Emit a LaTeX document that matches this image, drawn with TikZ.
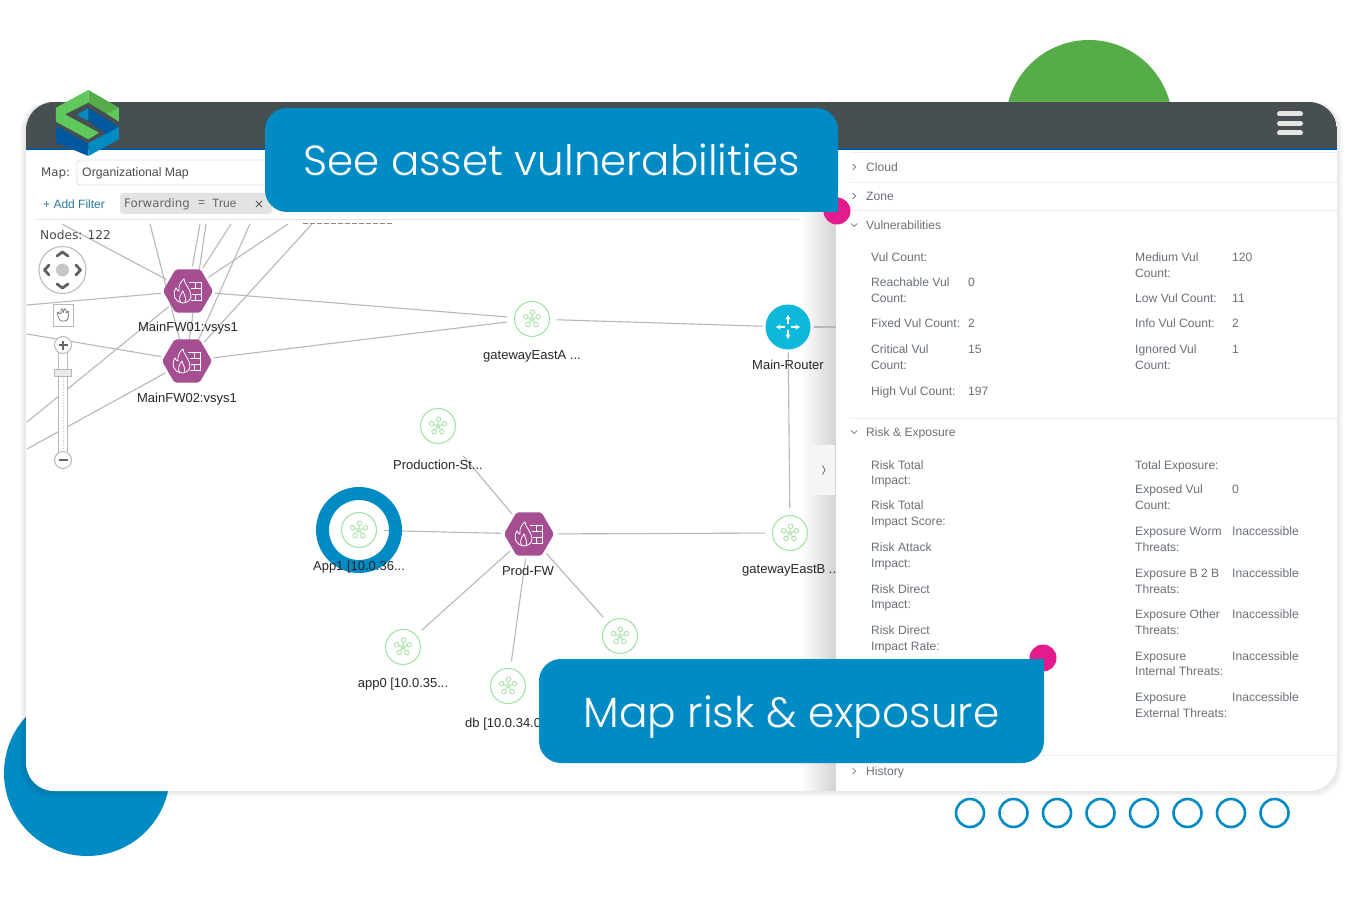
\documentclass[tikz,border=0pt]{standalone}
\usepackage{fontspec}
\setmainfont{Liberation Sans}
\newfontfamily\calloutfont[UprightFont=* Light]{Poppins}
\newfontfamily\verdfont{DejaVu Sans}
\usetikzlibrary{
  positioning,
  calc,
  arrows.meta,
  shapes.geometric
}
\definecolor{myBlue}{HTML}{008BC4}
\definecolor{myDarkBlue}{HTML}{00589E}
\definecolor{myGreen}{HTML}{56AC48}
\definecolor{myLightGreen}{HTML}{5FC85A}
\definecolor{myPink}{HTML}{E31C8D}
\definecolor{myHeader}{HTML}{474F52}
\definecolor{myPurple}{HTML}{A54E92}
\definecolor{myCyan}{HTML}{0DB8DA}
\definecolor{myRing}{HTML}{A4E2A6}
\definecolor{myLink}{HTML}{B8B8B8}
\definecolor{myText}{HTML}{6A7078}
\pgfdeclarelayer{deep}
\pgfdeclarelayer{links}
\pgfsetlayers{deep,links,main}
\tikzset{
  fwnode/.style={regular polygon, regular polygon sides=6, minimum size=50pt, inner sep=0pt, outer sep=3pt, fill=myPurple, rounded corners=2pt},
  netnode/.style={circle, minimum size=35pt, inner sep=0pt, outer sep=7.5pt, draw=myRing, line width=1.1pt, fill=white},
  routernode/.style={circle, minimum size=45pt, inner sep=0pt, outer sep=3pt, fill=myCyan},
  netlabel/.style={inner sep=0pt, font=\fontsize{13}{15}\selectfont, text=black!85},
  link/.style={draw=myLink, line width=1.1pt},
  paneltext/.style={anchor=base west, inner sep=0pt, font=\fontsize{12.1}{14}\selectfont, text=myText},
  uitext/.style={anchor=west, inner sep=0pt, text=black!70},
  callout/.style={rounded corners=22pt, fill=myBlue, text=white, inner sep=0pt, text height=32pt, text depth=0pt, font=\calloutfont\fontsize{42.3}{50}\selectfont},
  chev/.style={draw=myText, line width=0.7pt},
  panchev/.style={draw=black!62, line width=2.8pt, line cap=round, line join=round},
  ctrl/.style={draw=black!28, line width=1pt, fill=white},
  ringdot/.style={circle, draw=myBlue, line width=2.6pt, minimum size=28pt, inner sep=0pt},
  netpic/.pic={
    \begin{scope}[line width=0.8pt, draw=myRing]
      \foreach \a in {55,125,200,340,275}
        \draw (0,0) -- (\a:4.5) (\a:6.8) circle (2.3pt);
      \draw[fill=white] (0,0) circle (1.8pt);
    \end{scope}
  },
  fwpic/.pic={
    \begin{scope}[line width=0.8pt, draw=white]
      \draw (-5,12) .. controls (-14,11) and (-16,3) .. (-12,-3) .. controls (-11,-1) and (-10,0) .. (-9,0)
        .. controls (-10,-5) and (-7,-10) .. (-4,-12) .. controls (-4,-7) and (3,-2) .. (3,5) .. controls (3,9) and (-1,12) .. (-5,12);
      \draw (-7,12) .. controls (-10,8) and (-8,4) .. (-5,0) .. controls (-4,4) and (-1,7) .. (-3,12);
      \draw (1,-9) -- (13,-9) -- (13,9) -- (3,9) (3,-3) -- (13,-3) (4,3) -- (13,3) (7,-9) -- (7,-3) (7,3) -- (7,9);
    \end{scope}
  },
  routerpic/.pic={
    \begin{scope}[line width=1.1pt, draw=white, -{Stealth[length=4.5pt,width=5pt]}]
      \draw (3,0) -- (12,0);
      \draw (-3,0) -- (-12,0);
      \draw (0,-3) -- (0,-12);
      \draw (0,3) -- (0,12);
    \end{scope}
  }
}

\begin{document}
\begin{tikzpicture}[x=1pt, y=-1pt]
  \useasboundingbox (0,0) rectangle (1363,904);

  \begin{pgfonlayer}{deep}
    % 背景の円
    \fill[myGreen] (1089,123.5) circle (83.5);
    \fill[myBlue] (87,773) circle (83);

    % カードの影
    \foreach \s in {1,...,6}
      \fill[black, opacity=0.014, rounded corners=28pt] (26-\s,102) rectangle (1337+\s,791+\s);
    \fill[white, rounded corners=28pt] (26,102) rectangle (1337,791);

    % パネルの影
    \shade[left color=white, right color=black!17] (800,150) rectangle (836,790.5);
  \end{pgfonlayer}

  % 小さい丸の列
  \foreach \i/\cx in {1/970,2/1013.5,3/1057,4/1100.5,5/1144,6/1187.5,7/1231,8/1274.5}
    \node (ring\i) at (\cx,813) [ringdot]{};

  % ヘッダ
  \begin{scope}
    \clip[rounded corners=28pt] (26,102) rectangle (1337,791);
    \fill[myHeader] (26,102) rectangle (1337,148);
    \fill[myDarkBlue] (26,148) rectangle (1337,150);
  \end{scope}
  \foreach \by in {114,123.5,133}
    \draw[white!90!black, line width=5pt, line cap=round] (1279.5,\by) -- (1300.5,\by);

  % グラフのノード
  \node (fwA) at (188,291) [fwnode]{};
  \node (fwB) at (187,361) [fwnode]{};
  \node (fwC) at (529,534) [fwnode]{};
  \node (gwA) at (532,319) [netnode]{};
  \node (gwB) at (790,533) [netnode]{};
  \node (prod) at (438,426) [netnode]{};
  \node (appB) at (403,647) [netnode]{};
  \node (dbA) at (508,686) [netnode]{};
  \node (extra) at (620,636) [netnode]{};
  \node (router) at (788,327) [routernode]{};

  % App1 の輪
  \draw[myBlue, line width=13pt] (359,530) circle (36.5);
  \node (appA) at (359,530) [netnode]{};

  % 端の座標
  \coordinate (tA) at (62,224);
  \coordinate (tB) at (150,224);
  \coordinate (tC) at (200,224);
  \coordinate (tD) at (206,224);
  \coordinate (tE) at (231,224);
  \coordinate (tF) at (250,224);
  \coordinate (tG) at (288,224);
  \coordinate (tH) at (312,224);
  \coordinate (lA) at (27,305);
  \coordinate (lB) at (27,334);
  \coordinate (lC) at (27,422);
  \coordinate (lD) at (27,449);
  \coordinate (rA) at (836,327);

  % 接続線
  \begin{pgfonlayer}{links}
    \draw[link] (tA) -- (fwA);
    \draw[link] (tB) -- ($(fwB)+(-7,-20)$);
    \draw[link] (tC) -- (fwA);
    \draw[link] (tD) -- ($(fwB)+(2,-20)$);
    \draw[link] (tE) -- (fwA);
    \draw[link] (tF) -- ($(fwB)+(11,-20)$);
    \draw[link] (tG) -- (fwA);
    \draw[link] (tH) -- (fwB);
    \draw[link] (lA) -- (fwA);
    \draw[link] (lB) -- (fwB);
    \draw[link] (lC) -- (fwA);
    \draw[link] (lD) -- (fwB);
    \draw[link] (fwA) -- (gwA);
    \draw[link] (fwB) -- (gwA);
    \draw[link] (gwA) -- (router);
    \draw[link] (router) -- (rA);
    \draw[link] (router) -- (gwB);
    \draw[link] (fwC) -- (gwB);
    \draw[link, shorten >=14pt] (fwC) -- (prod);
    \draw[link] (fwC) -- (appA);
    \draw[link] (fwC) -- (appB);
    \draw[link] (fwC) -- (dbA);
    \draw[link] (fwC) -- (extra);
  \end{pgfonlayer}

  % ノードのアイコン
  \foreach \n in {fwA,fwB,fwC}
    \pic at (\n) {fwpic};
  \foreach \n in {gwA,gwB,prod,appA,appB,dbA,extra}
    \pic at (\n) {netpic};
  \pic at (router) {routerpic};

  % ノードのラベル
  \node (fwAlbl) at (188,328) [netlabel]{MainFW01:vsys1};
  \node (fwBlbl) at (187,399.5) [netlabel]{MainFW02:vsys1};
  \node (fwClbl) at (528,571) [netlabel]{Prod-FW};
  \node (gwAlbl) at (532,356.5) [netlabel]{gatewayEastA ...};
  \node (gwBlbl) at (742,570.5) [netlabel, anchor=west]{gatewayEastB ...};
  \node (prodlbl) at (438,464.5) [netlabel]{Production-St...};
  \node (appAlbl) at (359,567.5) [netlabel]{App1 [10.0.36...};
  \node (appBlbl) at (403,684.5) [netlabel]{app0 [10.0.35...};
  \node (dbAlbl) at (465,724) [netlabel, anchor=west]{db [10.0.34.0...};
  \node (routerlbl) at (788,364.5) [netlabel]{Main-Router};

  % 上のフィルタ欄
  \fill[white] (27,150) rectangle (799,223);
  \draw[black!45, line width=1pt, dash pattern=on 5pt off 2pt] (303,224) -- (393,224);
  \draw[black!10, line width=0.8pt] (36,219) -- (799,219);
  \node (maplbl) at (41,173.5) [uitext, font=\verdfont\fontsize{11.8}{14}\selectfont]{Map:};
  \draw[black!12, line width=0.8pt, rounded corners=3pt] (77,160) rectangle (300,185);
  \node (mapname) at (82,173) [uitext, font=\fontsize{12.3}{14}\selectfont]{Organizational Map};
  \node (addflt) at (43,204) [uitext, text=myBlue!70!black!85, font=\fontsize{12}{14}\selectfont]{+ Add Filter};
  \fill[black!11, rounded corners=3pt] (120,193) rectangle (272,214);
  \node (chip) at (124,204.5) [uitext, text=black!60, font=\verdfont\fontsize{11.8}{14}\selectfont]{Forwarding};
  \node (chipeq) at (198,204) [uitext, text=black!60, font=\fontsize{12}{14}\selectfont]{=};
  \node (chipval) at (212,203.5) [uitext, text=black!60, font=\fontsize{12}{14}\selectfont]{True};
  \draw[black!65, line width=0.8pt] (256,201) -- (262,207) (262,201) -- (256,207);
  \node (nodeslbl) at (40,235) [uitext, font=\verdfont\fontsize{12.2}{14}\selectfont]{Nodes: 122};

  % パン操作
  \draw[ctrl] (62.5,270) circle (23.5);
  \fill[black!22] (62.5,270) circle (6.5);
  \draw[panchev] (57,256) -- (62.5,252) -- (68,256);
  \draw[panchev] (57,284) -- (62.5,288) -- (68,284);
  \draw[panchev] (49,265) -- (44.5,270) -- (49,275);
  \draw[panchev] (76,265) -- (80.5,270) -- (76,275);
  \draw[ctrl] (53,304) rectangle (73,326);
  \draw[black!55, line width=0.7pt, rounded corners=1.5pt] (60,321) -- (57,313) -- (59,312) -- (61,315) -- (61,309) -- (63,309) -- (63,314) -- (64,309) -- (66,309) -- (66,314) -- (67,311) -- (69,312) -- (68,319) -- (66,321) -- cycle;

  % ズーム操作
  \draw[ctrl] (58.5,350) rectangle (67.5,456);
  \draw[black!22, dotted, line width=0.8pt] (63,378) -- (63,452);
  \draw[ctrl, fill=black!8] (54.5,369) rectangle (71,376.5);
  \draw[ctrl] (63,345) circle (8.5);
  \draw[ctrl] (63,460) circle (8.5);
  \draw[black!60, line width=1.5pt] (58.5,345) -- (67.5,345) (63,340.5) -- (63,349.5);
  \draw[black!60, line width=1.5pt] (58.5,460) -- (67.5,460);

  % 右パネル
  \fill[black!4] (811,445) rectangle (835,495);
  \draw[black!55, line width=0.9pt] (822.5,465.5) -- (825,470) -- (822.5,474.5);
  \begin{scope}
    \clip[rounded corners=28pt] (26,102) rectangle (1337,791);
    \fill[white] (836,150) rectangle (1337,791);
  \end{scope}
  \foreach \dy in {152,182,210,418,755}
    \draw[black!7, line width=0.8pt] (850,\dy) -- (1337,\dy);

  % 節の見出し
  \foreach \sn/\sy/\st in {sa/167/Cloud,sb/196/Zone,sc/225/Vulnerabilities,sd/432/{Risk \& Exposure},se/771/History}
    \node (\sn) at (866,\sy+4.5) [paneltext]{\st};
  \foreach \cy in {167,196,771}
    \draw[chev] (852.5,\cy-3) -- (855.5,\cy) -- (852.5,\cy+3);
  \foreach \cy in {225,432}
    \draw[chev] (851,\cy-1.5) -- (854,\cy+1.5) -- (857,\cy-1.5);

  % 左の列
  \foreach \ty/\tt in {257/Vul Count:,282/Reachable Vul,298/Count:,323/Fixed Vul Count:,349/Critical Vul,365/Count:,391/High Vul Count:,
      465/Risk Total,480/Impact:,505/Risk Total,521/Impact Score:,547/Risk Attack,563/Impact:,589/Risk Direct,604/Impact:,630/Risk Direct,646/Impact Rate:}
    \node (pl\ty) at (871,\ty+4.5) [paneltext]{\tt};
  \foreach \ty/\tt in {282/0,323/2,349/15,391/197}
    \node (vl\ty) at (968,\ty+4.5) [paneltext]{\tt};

  % 右の列
  \foreach \ty/\tt in {257/Medium Vul,273/Count:,298/Low Vul Count:,323/Info Vul Count:,349/Ignored Vul,365/Count:,
      465/Total Exposure:,489/Exposed Vul,505/Count:,531/Exposure Worm,547/Threats:,573/Exposure B 2 B,589/Threats:,614/Exposure Other,630/Threats:,656/Exposure,671/Internal Threats:,697/Exposure,713/External Threats:}
    \node (pr\ty) at (1135,\ty+4.5) [paneltext]{\tt};
  \foreach \ty/\tt in {257/120,298/11,323/2,349/1,489/0,531/Inaccessible,573/Inaccessible,614/Inaccessible,656/Inaccessible,697/Inaccessible}
    \node (vr\ty) at (1232,\ty+4.5) [paneltext]{\tt};

  % ピンクの点と吹き出し
  \fill[myPink] (837,211) circle (13.5);
  \fill[myPink] (1043,658) circle (13.5);
  \fill[myBlue] (800,180) rectangle (838,212);
  \fill[myBlue] (1010,659) rectangle (1044,690);
  \node (seeBox) at (551.5,160) [callout, minimum width=573pt, minimum height=104pt, font=\calloutfont\fontsize{42}{50}\selectfont]{See asset vulnerabilities};
  \node (mapBox) at (791.5,711) [callout, minimum width=505pt, minimum height=104pt]{Map risk \& exposure};

  % ロゴ
  \begin{scope}[shift={(20,80)}, x=0.3333pt, y=-0.3333pt]
    \fill[myDarkBlue] (108,137) -- (108,188) -- (205,228) -- (205,190) -- (140,155) -- cycle;
    \fill[myBlue] (205,228) -- (297,178) -- (297,140) -- (205,190) -- cycle;
    \fill[myDarkBlue] (205,84) -- (297,140) -- (258,162) -- (205,122) -- cycle;
    \fill[myBlue] (170,105) -- (205,84) -- (205,122) -- cycle;
    \fill[myLightGreen] (205,30) -- (108,83) -- (108,125) -- (205,178) -- (237,158) -- (135,103) -- (205,68) -- cycle;
    \fill[myGreen] (205,30) -- (297,83) -- (258,100) -- (205,68) -- cycle;
    \fill[myLightGreen] (258,100) -- (297,83) -- (297,125) -- cycle;
  \end{scope}
\end{tikzpicture}
\end{document}
